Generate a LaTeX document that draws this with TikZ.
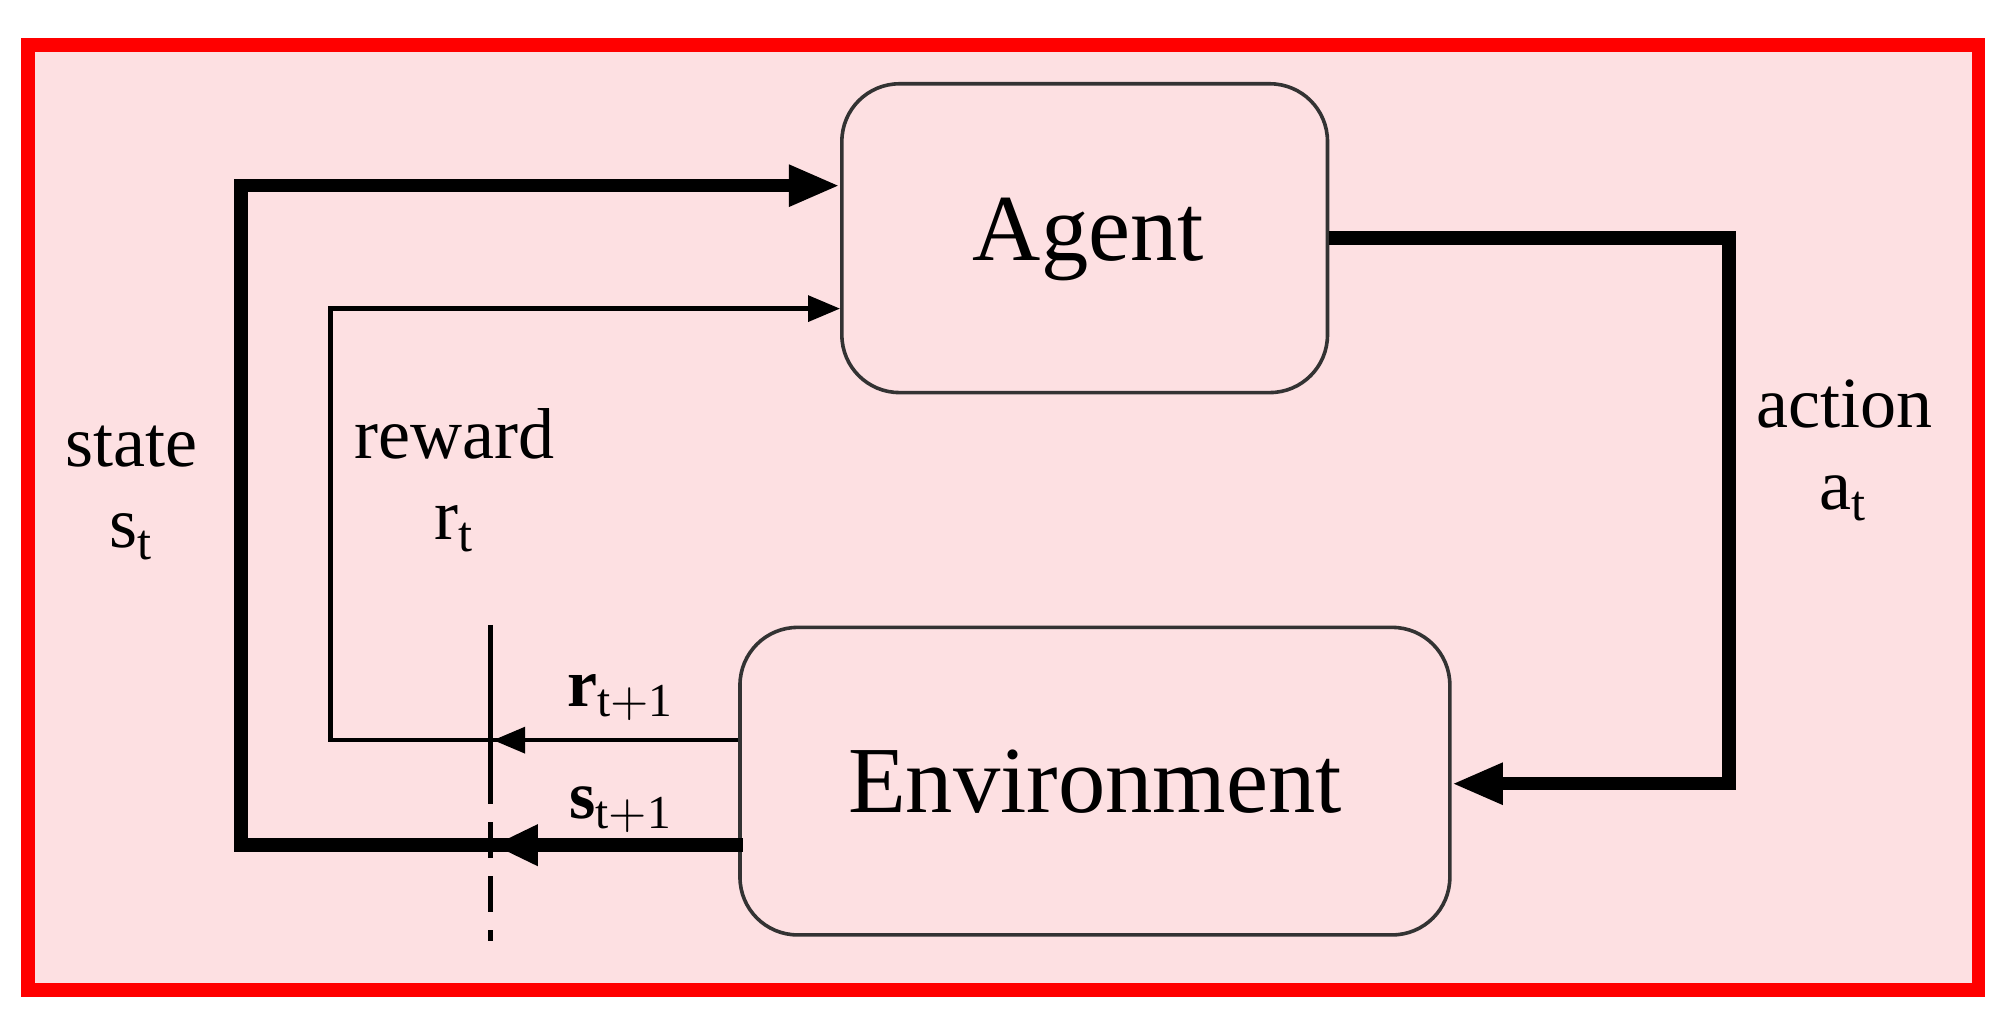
\documentclass[tikz,border=0pt]{standalone}
\usepackage{fontspec}
\setmainfont{Liberation Serif}
\usetikzlibrary{arrows.meta}
\begin{document}
\begin{tikzpicture}[x=0.01cm,y=-0.01cm,
  box/.style={draw=black!80,line width=0.8pt,rounded corners=0.45cm,fill=none},
  thick arr/.style={line width=3pt,-{Triangle[length=0.4cm,width=0.3cm]}},
  thin arr/.style={line width=1pt,-{Triangle[length=0.25cm,width=0.2cm]}},
  lab/.style={font=\fontsize{16}{18}\selectfont,align=center}]
\useasboundingbox (0,0) rectangle (1568,801);
\fill[white] (0,0) rectangle (1568,801);
\draw[red,line width=3pt,fill={rgb,255:red,253;green,224;blue,226}] (22,35) rectangle (1545,773);
\node[box,minimum width=3.79cm,minimum height=2.41cm] (agent) at (847,186) {};
\node[font=\fontsize{21}{23}\selectfont] at (850,187) {Agent};
\node[box,minimum width=5.54cm,minimum height=2.40cm] (env) at (855,610) {};
\node[font=\fontsize{21}{23}\selectfont] at (855,610) {Environment};
\coordinate (sd) at (188,660);
\coordinate (su) at (188,145);
\coordinate (rd) at (258,578);
\coordinate (ru) at (258,241);
\coordinate (ar) at (1350,186);
\coordinate (ad) at (1350,612);
\draw[thick arr] (580,660) -- (sd) -- (su) -- (agent.west |- su);
\draw[thin arr] (env.west |- rd) -- (rd) -- (ru) -- (agent.west |- ru);
\draw[thick arr] (agent.east |- ar) -- (ar) -- (ad) -- (env.east |- ad);
\coordinate (dt) at (383,488);
\coordinate (dm) at (383,600);
\coordinate (db) at (383,735);
\draw[line width=1pt] (dt) -- (dm);
\draw[line width=1pt,dash pattern=on 8pt off 4pt] (dm) -- (db);
\draw[line width=1pt,-{Triangle[length=0.25cm,width=0.2cm]}] (420,578) -- (385,578);
\draw[line width=3pt,-{Triangle[length=0.35cm,width=0.3cm]}] (450,660) -- (385,660);
\node[lab] at (103,385) {state\\s$_\mathrm{t}$};
\node[lab] at (355,375) {reward\\r$_\mathrm{t}$};
\node[lab] at (1440,352) {action\\a$_\mathrm{t}$};
\node[font=\fontsize{15}{17}\selectfont\bfseries] at (485,545) {r$_{\mathrm{t+1}}$};
\node[font=\fontsize{15}{17}\selectfont\bfseries] at (485,632) {s$_{\mathrm{t+1}}$};
\end{tikzpicture}
\end{document}
